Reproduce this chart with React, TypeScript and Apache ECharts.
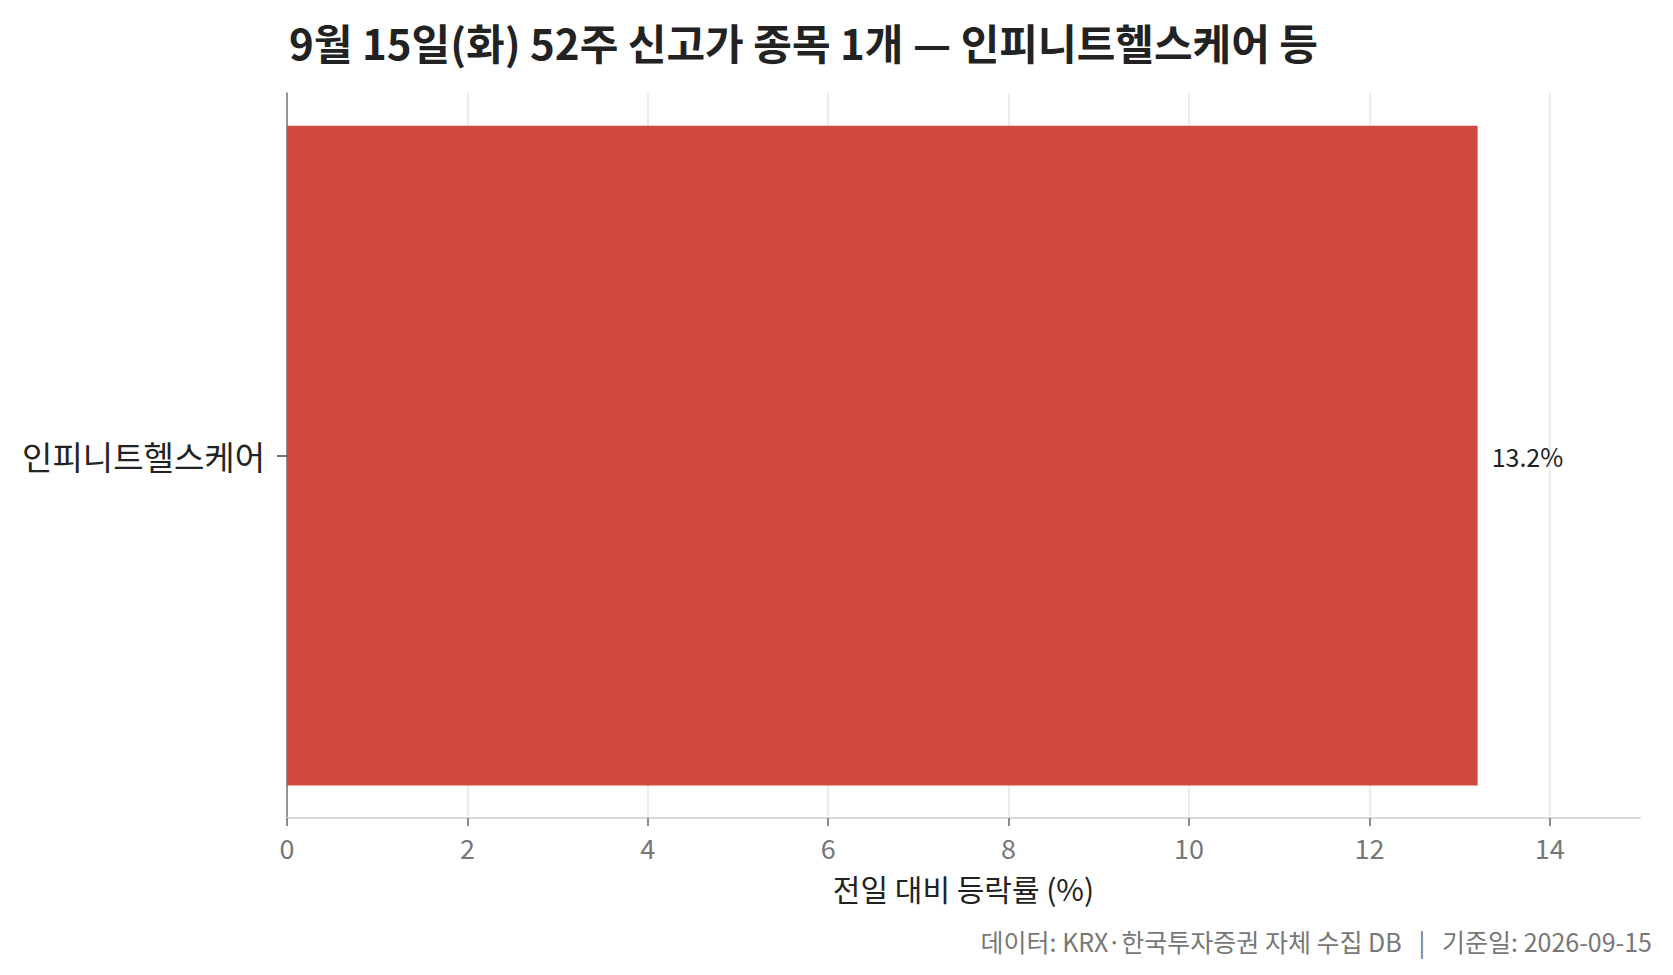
import { useEffect, useRef } from "react";
import * as echarts from "echarts";

// data
const categories = ["인피니트헬스케어"];
const changeRates = [13.2];
const xTickValues = [0, 2, 4, 6, 8, 10, 12, 14];

const titleText = "9월 15일(화) 52주 신고가 종목 1개 — 인피니트헬스케어 등";
const xAxisName = "전일 대비 등락률 (%)";
const footerText = "데이터: KRX·한국투자증권 자체 수집 DB   |   기준일: 2026-09-15";

const FONT = "'Noto Sans CJK KR', 'Noto Sans', sans-serif";

export default function App() {
  const chartRef = useRef<HTMLDivElement>(null);

  useEffect(() => {
    if (!chartRef.current) return;
    const chart = echarts.init(chartRef.current, null, { renderer: "svg" });

    // 0..14 grey lines, the extra boundary line at max (15) hidden
    const gridColors = xTickValues.map(() => "#e6e6e6").concat(["rgba(0,0,0,0)"]);

    chart.setOption({
      animation: false,
      backgroundColor: "#ffffff",
      textStyle: { fontFamily: FONT },
      title: {
        text: titleText,
        left: 284,
        top: 15,
        textStyle: {
          fontFamily: FONT,
          fontSize: 42,
          fontWeight: "bold",
          color: "#222222",
        },
      },
      grid: { left: 287, right: 33, top: 93, bottom: 157, containLabel: false },
      xAxis: {
        type: "value",
        min: 0,
        max: 15,
        interval: 2,
        name: xAxisName,
        nameLocation: "middle",
        nameGap: 55,
        nameTextStyle: { fontFamily: FONT, fontSize: 30, color: "#222222" },
        axisLine: { show: true, lineStyle: { color: "#d9d9d9", width: 2 } },
        axisTick: {
          show: true,
          length: 8,
          customValues: xTickValues,
          lineStyle: { color: "#666666", width: 1.5 },
        },
        axisLabel: {
          customValues: xTickValues,
          margin: 16,
          fontFamily: FONT,
          fontSize: 27,
          color: "#777777",
        },
        splitLine: { show: true, lineStyle: { color: gridColors, width: 1.5 } },
      },
      yAxis: {
        type: "category",
        data: categories,
        axisLine: { show: true, lineStyle: { color: "#777777", width: 1.5 } },
        axisTick: {
          show: true,
          alignWithLabel: true,
          length: 10,
          lineStyle: { color: "#444444", width: 1.5 },
        },
        axisLabel: {
          margin: 22,
          fontFamily: FONT,
          fontSize: 33,
          color: "#222222",
        },
        splitLine: { show: false },
      },
      series: [
        {
          type: "bar",
          data: changeRates,
          barCategoryGap: "9%",
          itemStyle: { color: "#d14a3f" },
          label: {
            show: true,
            position: "right",
            distance: 14,
            formatter: "{c}%",
            fontFamily: FONT,
            fontSize: 25,
            color: "#222222",
          },
        },
      ],
      graphic: [
        {
          type: "text",
          right: 21,
          top: 928,
          style: {
            text: footerText,
            fontFamily: FONT,
            fontSize: 25,
            fill: "#777777",
          },
        },
      ],
    });

    return () => {
      chart.dispose();
    };
  }, []);

  return (
    <div
      ref={chartRef}
      style={{ position: "fixed", left: 0, top: 0, width: 1673, height: 975 }}
    />
  );
}
